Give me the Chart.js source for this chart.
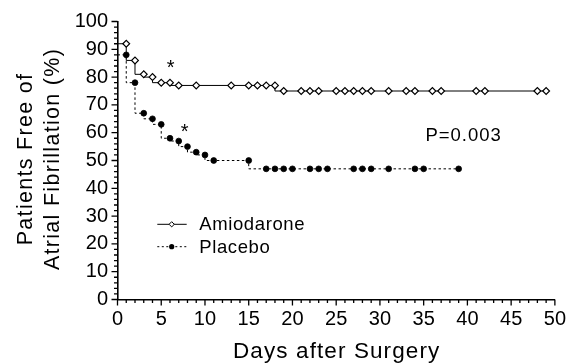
<!DOCTYPE html>
<html><head><meta charset="utf-8">
<script src="https://cdn.jsdelivr.net/npm/chart.js@4/dist/chart.umd.min.js"></script>
<style>html,body{margin:0;padding:0;background:#fff}#wrap{width:574px;height:364px}</style>
</head><body><div id="wrap"><canvas id="c" width="574" height="364"></canvas></div>
<script>
// ---- data ----
const amioDays   = [0,1,2,3,4,5,6,7,9,13,15,16,17,18,19,21,22,23,25,26,27,28,29,31,33,34,36,37,41,42,48,49];
const amioValues = [92,92,86,81,80,78,78,77,77,77,77,77,77,77,75,75,75,75,75,75,75,75,75,75,75,75,75,75,75,75,75,75];
const placeboDays   = [0,1,2,3,4,5,6,7,8,9,10,11,15,17,18,19,20,22,23,24,27,28,29,31,34,35,39];
const placeboValues = [88,88,78,67,65,63,58,57,55,53,52,50,50,47,47,47,47,47,47,47,47,47,47,47,47,47,47];
const seriesNames = ['Amiodarone','Placebo'];
const xTickValues = [0,5,10,15,20,25,30,35,40,45,50];
const yTickValues = [0,10,20,30,40,50,60,70,80,90,100];
const xTitle = 'Days after Surgery';
const yTitle = ['Patients Free of','Atrial Fibrillation (%)'];
const pLabel = 'P=0.003';

const FONT = "'Liberation Sans', Arial, Helvetica, sans-serif";
const toXY = (xs, ys) => xs.map((d, i) => ({x: d, y: ys[i]}));

const decor = {
  id: 'decor',
  beforeUpdate(chart){ chart.ctx.letterSpacing = '0px'; },
  beforeDraw(chart){ chart.ctx.letterSpacing = '0px'; },
  afterDraw(chart){
    const {ctx, scales:{x, y}, chartArea: ca} = chart;
    ctx.save();
    // tick marks (major + minor)
    ctx.strokeStyle = '#000'; ctx.lineWidth = 1.3;
    ctx.beginPath();
    for (let d = 0; d <= 50; d++) {
      const px = x.getPixelForValue(d);
      const len = d % 5 === 0 ? 6 : 3.5;
      ctx.moveTo(px, ca.bottom); ctx.lineTo(px, ca.bottom + len);
    }
    for (let v = 0; v <= 100; v += 2) {
      const py = y.getPixelForValue(v);
      const len = v % 10 === 0 ? 6 : 3.5;
      ctx.moveTo(ca.left, py); ctx.lineTo(ca.left - len, py);
    }
    ctx.stroke();
    ctx.fillStyle = '#000';
    // x title
    ctx.letterSpacing = '1.1px';
    ctx.font = '22.5px ' + FONT;
    ctx.textAlign = 'center'; ctx.textBaseline = 'alphabetic';
    ctx.fillText(xTitle, (ca.left + ca.right) / 2 + 0.5, 358);
    // y title
    ctx.save();
    ctx.letterSpacing = '1.3px';
    ctx.font = '21.5px ' + FONT;
    const cy = (ca.top + ca.bottom) / 2 - 1;
    ctx.rotate(-Math.PI / 2);
    ctx.fillText(yTitle[0], -cy + 0.5, 32);
    ctx.fillText(yTitle[1], -cy + 0.5, 58.5);
    ctx.restore();
    // legend
    const items = [
      {name: seriesNames[0], ly: 224.3, ty: 230, dash: [], marker: 'diamond'},
      {name: seriesNames[1], ly: 246.7, ty: 253.3, dash: [2, 2.5], marker: 'dot'}
    ];
    items.forEach(it => {
      ctx.save();
      ctx.strokeStyle = '#000'; ctx.lineWidth = 1;
      ctx.setLineDash(it.dash);
      ctx.beginPath(); ctx.moveTo(157.3, it.ly); ctx.lineTo(186.7, it.ly); ctx.stroke();
      ctx.setLineDash([]);
      const mx = 171.7;
      if (it.marker === 'diamond') {
        ctx.beginPath();
        ctx.moveTo(mx, it.ly - 2.6); ctx.lineTo(mx + 2.6, it.ly); ctx.lineTo(mx, it.ly + 2.6); ctx.lineTo(mx - 2.6, it.ly); ctx.closePath();
        ctx.fillStyle = '#fff'; ctx.fill(); ctx.stroke();
      } else {
        ctx.beginPath(); ctx.arc(mx, it.ly, 2.6, 0, Math.PI * 2); ctx.fillStyle = '#000'; ctx.fill();
      }
      ctx.restore();
      ctx.letterSpacing = '0.6px';
      ctx.font = '18.5px ' + FONT;
      ctx.textAlign = 'left'; ctx.textBaseline = 'alphabetic';
      ctx.fillText(it.name, 199.3, it.ty);
    });
    // asterisks
    ctx.letterSpacing = '0px';
    ctx.font = '20px ' + FONT;
    ctx.textAlign = 'center';
    [[6.08, 85.2], [7.68, 62.3]].forEach(([d, v]) => {
      ctx.fillText('*', x.getPixelForValue(d), y.getPixelForValue(v) + 11.5);
    });
    // P value
    ctx.letterSpacing = '1px';
    ctx.font = '18.5px ' + FONT;
    ctx.textAlign = 'left';
    ctx.fillText(pLabel, x.getPixelForValue(35.2), y.getPixelForValue(57));
    ctx.restore();
  }
};

new Chart(document.getElementById('c'), {
  type: 'line',
  data: {
    datasets: [
      {
        label: seriesNames[0],
        data: toXY(amioDays, amioValues),
        stepped: 'after',
        borderColor: '#000', borderWidth: 1,
        pointStyle: 'rectRot',
        pointRadius: ctx => ctx.dataIndex === 0 ? 0 : 3.4,
        pointBackgroundColor: '#fff', pointBorderColor: '#000', pointBorderWidth: 1.2,
        fill: false
      },
      {
        label: seriesNames[1],
        data: toXY(placeboDays, placeboValues),
        stepped: 'after',
        borderColor: '#000', borderWidth: 1, borderDash: [2.5, 2.5],
        pointStyle: 'circle',
        pointRadius: ctx => ctx.dataIndex === 0 ? 0 : 2.9,
        pointBackgroundColor: '#000', pointBorderColor: '#000', pointBorderWidth: 0.8,
        fill: false
      }
    ]
  },
  options: {
    responsive: false,
    animation: false,
    devicePixelRatio: 1,
    layout: {padding: {left: 0, top: 19.5, right: 19, bottom: 0}},
    plugins: {legend: {display: false}, tooltip: {enabled: false}},
    scales: {
      x: {
        type: 'linear', min: 0, max: 50,
        afterBuildTicks: s => { s.ticks = xTickValues.map(v => ({value: v})); },
        afterFit: s => { s.height = 64.5; },
        grid: {display: false, drawTicks: false},
        border: {display: true, color: '#000', width: 1.6},
        ticks: {color: '#000', font: {family: FONT, size: 20}, padding: 8, maxRotation: 0, autoSkip: false}
      },
      y: {
        type: 'linear', min: 0, max: 100,
        afterBuildTicks: s => { s.ticks = yTickValues.map(v => ({value: v})); },
        afterFit: s => { s.width = 117.5; },
        grid: {display: false, drawTicks: false},
        border: {display: true, color: '#000', width: 1.6},
        ticks: {color: '#000', font: {family: FONT, size: 20}, padding: 9.5, autoSkip: false}
      }
    }
  },
  plugins: [decor]
});
</script></body></html>
